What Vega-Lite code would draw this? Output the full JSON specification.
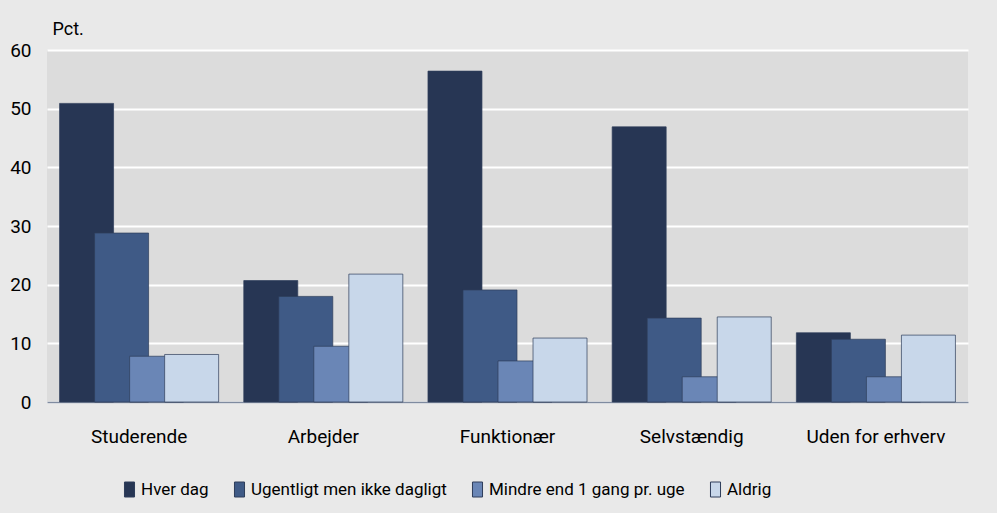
{
  "$schema": "https://vega.github.io/schema/vega-lite/v6.json",
  "autosize": "none",
  "width": 921,
  "height": 352,
  "padding": {"left": 47, "top": 50, "right": 29, "bottom": 111},
  "background": "#e9e9e9",
  "config": {
    "font": "Roboto",
    "view": {"fill": "#dcdcdc", "stroke": null},
    "axis": {"labelFont": "Roboto", "titleFont": "Roboto"},
    "legend": {"labelFont": "Roboto"}
  },
  "data": {
    "values": [
      {"gruppe": "Studerende", "serie": "Hver dag", "pct": 50.9},
      {"gruppe": "Studerende", "serie": "Ugentligt men ikke dagligt", "pct": 28.8},
      {"gruppe": "Studerende", "serie": "Mindre end 1 gang pr. uge", "pct": 7.8},
      {"gruppe": "Studerende", "serie": "Aldrig", "pct": 8.1},
      {"gruppe": "Arbejder", "serie": "Hver dag", "pct": 20.7},
      {"gruppe": "Arbejder", "serie": "Ugentligt men ikke dagligt", "pct": 18.0},
      {"gruppe": "Arbejder", "serie": "Mindre end 1 gang pr. uge", "pct": 9.5},
      {"gruppe": "Arbejder", "serie": "Aldrig", "pct": 21.8},
      {"gruppe": "Funktionær", "serie": "Hver dag", "pct": 56.4},
      {"gruppe": "Funktionær", "serie": "Ugentligt men ikke dagligt", "pct": 19.1},
      {"gruppe": "Funktionær", "serie": "Mindre end 1 gang pr. uge", "pct": 7.0},
      {"gruppe": "Funktionær", "serie": "Aldrig", "pct": 10.9},
      {"gruppe": "Selvstændig", "serie": "Hver dag", "pct": 46.9},
      {"gruppe": "Selvstændig", "serie": "Ugentligt men ikke dagligt", "pct": 14.3},
      {"gruppe": "Selvstændig", "serie": "Mindre end 1 gang pr. uge", "pct": 4.3},
      {"gruppe": "Selvstændig", "serie": "Aldrig", "pct": 14.5},
      {"gruppe": "Uden for erhverv", "serie": "Hver dag", "pct": 11.8},
      {"gruppe": "Uden for erhverv", "serie": "Ugentligt men ikke dagligt", "pct": 10.7},
      {"gruppe": "Uden for erhverv", "serie": "Mindre end 1 gang pr. uge", "pct": 4.3},
      {"gruppe": "Uden for erhverv", "serie": "Aldrig", "pct": 11.4}
    ]
  },
  "mark": {"type": "bar", "width": 54, "stroke": "#2e3d5a", "strokeWidth": 1, "strokeOpacity": 0.7},
  "encoding": {
    "x": {
      "field": "gruppe", "type": "nominal", "sort": null,
      "scale": {"paddingInner": 0, "paddingOuter": 0},
      "axis": {
        "title": null, "labelAngle": 0, "labelFontSize": 19, "labelColor": "#000000", "labelLimit": 0,
        "labelPadding": 25, "ticks": false, "domain": true, "domainColor": "#7f8ba0", "domainWidth": 1.5, "grid": false
      }
    },
    "xOffset": {
      "field": "serie", "type": "nominal", "sort": null,
      "scale": {"paddingInner": 0, "paddingOuter": 0.63}
    },
    "y": {
      "field": "pct", "type": "quantitative",
      "scale": {"domain": [0, 60], "nice": false},
      "axis": {
        "values": [0, 10, 20, 30, 40, 50, 60], "title": "Pct.", "titleAngle": 0, "titleX": 5, "titleY": -16,
        "titleAlign": "left", "titleBaseline": "alphabetic", "titleFontSize": 18, "titleFontWeight": "normal", "titleColor": "#000000",
        "labelFontSize": 19, "labelColor": "#000000", "labelPadding": 16, "ticks": false, "domain": false,
        "grid": true, "gridColor": "#ffffff", "gridWidth": 2, "gridOpacity": 1
      }
    },
    "color": {
      "field": "serie", "type": "nominal", "sort": null,
      "scale": {
        "domain": ["Hver dag", "Ugentligt men ikke dagligt", "Mindre end 1 gang pr. uge", "Aldrig"],
        "range": ["#273654", "#3f5a86", "#6a86b6", "#c8d7ea"]
      },
      "legend": {
        "title": null, "orient": "none", "direction": "horizontal", "legendX": 74, "legendY": 431,
        "labelFontSize": 17, "labelColor": "#000000", "labelOffset": 3, "columnPadding": 22, "labelLimit": 0,
        "symbolType": "M-0.67,-1H0.67V1H-0.67Z", "symbolSize": 225, "symbolStrokeColor": "#2e3d5a", "symbolStrokeWidth": 1, "symbolOpacity": 1
      }
    }
  }
}
